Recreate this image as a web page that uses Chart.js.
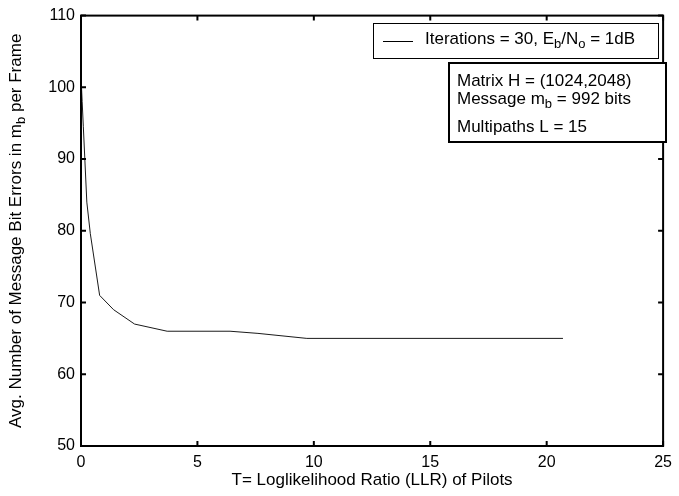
<!DOCTYPE html>
<html>
<head>
<meta charset="utf-8">
<script src="https://cdn.jsdelivr.net/npm/chart.js@4/dist/chart.umd.min.js"></script>
<style>
  html, body { margin: 0; padding: 0; background: #fff; }
  canvas { display: block; }
</style>
</head>
<body>
<canvas id="chart" width="679" height="496"></canvas>
<script>
// data
var llrT = [0, 0.05, 0.1, 0.25, 0.4, 0.8, 1.4, 2.3, 3.7, 6.4, 7.6, 9.7, 20.7];
var avgErrors = [101.5, 98, 94.5, 84, 79.6, 71, 69, 67, 66, 66, 65.7, 65, 65];

var xTicks = [0, 5, 10, 15, 20, 25];
var yTicks = [50, 60, 70, 80, 90, 100, 110];

var xTitle = "T= Loglikelihood Ratio (LLR) of Pilots";
// pieces: [text, isSubscript]
var yTitle = [["Avg. Number of Message Bit Errors in m", false], ["b", true], [" per Frame", false]];
var legendText = [["Iterations = 30, E", false], ["b", true], ["/N", false], ["o", true], [" = 1dB", false]];
var noteLines = [
  [["Matrix H = (1024,2048)", false]],
  [["Message m", false], ["b", true], [" = 992 bits", false]],
  [["Multipaths L = 15", false]]
];

var FONT = "'Liberation Sans', Arial, sans-serif";

// draw a run of text with subscripts, left aligned, returns width
function drawRich(ctx, parts, x, y, size) {
  var cx = x;
  parts.forEach(function (p) {
    var s = p[1] ? Math.round(size * 0.75) : size;
    ctx.font = s + "px " + FONT;
    ctx.fillText(p[0], cx, p[1] ? y + size * 0.3 : y);
    cx += ctx.measureText(p[0]).width;
  });
  return cx - x;
}
function richWidth(ctx, parts, size) {
  var w = 0;
  parts.forEach(function (p) {
    var s = p[1] ? Math.round(size * 0.75) : size;
    ctx.font = s + "px " + FONT;
    w += ctx.measureText(p[0]).width;
  });
  return w;
}

var matlabFrame = {
  id: "matlabFrame",
  afterDraw: function (chart) {
    var ctx = chart.ctx;
    var a = chart.chartArea;
    var xs = chart.scales.x, ys = chart.scales.y;
    ctx.save();
    ctx.strokeStyle = "#000";
    ctx.fillStyle = "#000";

    // box round the axes
    ctx.lineWidth = 2;
    ctx.strokeRect(a.left, a.top, a.right - a.left, a.bottom - a.top);

    // inside ticks on all four sides
    ctx.beginPath();
    xTicks.forEach(function (v) {
      var px = xs.getPixelForValue(v);
      ctx.moveTo(px, a.bottom); ctx.lineTo(px, a.bottom - 5);
      ctx.moveTo(px, a.top); ctx.lineTo(px, a.top + 5);
    });
    yTicks.forEach(function (v) {
      var py = ys.getPixelForValue(v);
      ctx.moveTo(a.left, py); ctx.lineTo(a.left + 5, py);
      ctx.moveTo(a.right, py); ctx.lineTo(a.right - 5, py);
    });
    ctx.stroke();

    // axis titles
    ctx.textBaseline = "middle";
    ctx.textAlign = "center";
    ctx.font = "17px " + FONT;
    ctx.fillText(xTitle, (a.left + a.right) / 2, 480);

    ctx.save();
    ctx.translate(16, (a.top + a.bottom) / 2);
    ctx.rotate(-Math.PI / 2);
    ctx.textAlign = "left";
    var tw = richWidth(ctx, yTitle, 17);
    drawRich(ctx, yTitle, -tw / 2, 0, 17);
    ctx.restore();

    // legend box
    ctx.lineWidth = 1;
    ctx.fillStyle = "#fff";
    ctx.fillRect(373, 23, 285, 35);
    ctx.strokeRect(373.5, 23.5, 285, 35);
    ctx.beginPath();
    ctx.moveTo(383, 41.5); ctx.lineTo(413, 41.5);
    ctx.stroke();
    ctx.fillStyle = "#000";
    ctx.textAlign = "left";
    drawRich(ctx, legendText, 425, 39, 17);

    // parameter note box
    ctx.lineWidth = 2;
    ctx.fillStyle = "#fff";
    ctx.fillRect(449, 63, 217, 79);
    ctx.strokeRect(449, 63, 217, 79);
    ctx.fillStyle = "#000";
    var rowsY = [81, 99, 127];
    noteLines.forEach(function (line, i) {
      drawRich(ctx, line, 457, rowsY[i], 17);
    });
    ctx.restore();
  }
};

new Chart(document.getElementById("chart"), {
  type: "line",
  data: {
    datasets: [{
      label: "Iterations = 30, Eb/No = 1dB",
      data: llrT.map(function (t, i) { return { x: t, y: avgErrors[i] }; }),
      borderColor: "#1a1a1a",
      borderWidth: 1,
      pointRadius: 0,
      tension: 0,
      fill: false
    }]
  },
  options: {
    responsive: false,
    animation: false,
    layout: { padding: { top: 14, right: 8, left: 0, bottom: 0 } },
    plugins: { legend: { display: false }, tooltip: { enabled: false } },
    scales: {
      x: {
        type: "linear",
        min: 0, max: 25,
        afterBuildTicks: function (s) { s.ticks = xTicks.map(function (v) { return { value: v }; }); },
        afterFit: function (s) { s.height = 50; },
        grid: { display: false, drawTicks: false },
        border: { display: false },
        ticks: { color: "#000", padding: 7, maxRotation: 0, font: { family: FONT, size: 16 } }
      },
      y: {
        min: 50, max: 110,
        afterBuildTicks: function (s) { s.ticks = yTicks.map(function (v) { return { value: v }; }); },
        afterFit: function (s) { s.width = 81; },
        grid: { display: false, drawTicks: false },
        border: { display: false },
        ticks: { color: "#000", padding: 6, font: { family: FONT, size: 16 } }
      }
    }
  },
  plugins: [matlabFrame]
});
</script>
</body>
</html>
